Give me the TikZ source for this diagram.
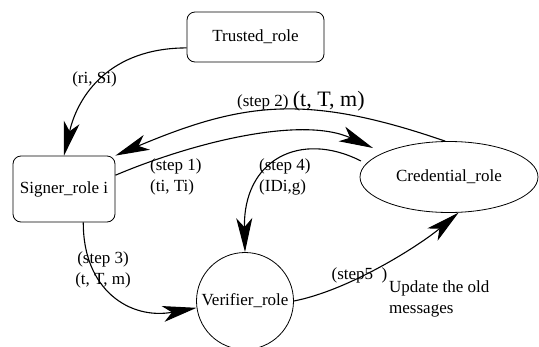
\documentclass[tikz,border=0pt]{standalone}
\usepackage{fontspec}
\setmainfont{Liberation Serif}
\usetikzlibrary{arrows.meta,shapes.geometric}
\begin{document}
\begin{tikzpicture}[x=1pt,y=-1pt,
  box/.style={draw,rounded corners=8pt,line width=0.8pt,inner sep=0pt,font=\fontsize{17}{20}\selectfont},
  ovalnode/.style={draw,ellipse,line width=0.8pt,inner sep=0pt,font=\fontsize{17}{20}\selectfont},
  roundnode/.style={draw,circle,line width=0.8pt,inner sep=0pt,font=\fontsize{17}{20}\selectfont},
  arr/.style={line width=1.1pt,-{Stealth[length=34pt,width=16pt,inset=9pt]}},
  lbl/.style={inner sep=0pt,font=\fontsize{17}{21}\selectfont}]
\useasboundingbox (0,0) rectangle (539,346);
% nodes
\node[box,minimum width=137pt,minimum height=50pt] (trusted) at (255.5,37) {Trusted\_role};
\node[box,minimum width=102pt,minimum height=66pt] (signer) at (64,189) {Signer\_role i};
\node[ovalnode,minimum width=178pt,minimum height=71pt] (cred) at (449,177) {Credential\_role};
\node[roundnode,minimum size=97pt] (ver) at (245,301) {Verifier\_role};
% free ends
\coordinate (s1end) at (373,148);
\coordinate (s4start) at (361,161);
% connectors
\draw[arr] (trusted.189) .. controls (110,48) and (78,95) .. (signer.north);
\draw[arr] (cred.96) .. controls (308,94) and (245,101) .. (signer.north east);
\draw[arr] (signer.15) .. controls (189,144) and (300,115) .. (s1end);
\draw[arr] (s4start) .. controls (300,130) and (243,160) .. (ver.north);
\draw[arr] (signer.-60) .. controls (83,290) and (130,320) .. (ver.188);
\draw[arr] (ver.east) .. controls (350,290) and (420,245) .. (cred.-75);
% labels
\node[lbl] (l0) at (94.5,79) {(ri, Si)};
\node[lbl,anchor=base west] (l2) at (237,106) {(step 2) {\fontsize{22}{24}\selectfont (t, T, m)}};
\node[lbl,anchor=west,align=left] (l1) at (150,177) {(step 1)\\(ti, Ti)};
\node[lbl,anchor=west,align=left] (l4) at (259,177) {(step 4)\\(IDi,g)};
\node[lbl,align=center] (l3) at (103,270) {(step 3)\\(t, T, m)};
\node[lbl] (l5) at (359.5,275) {(step5 \ )};
\node[lbl,anchor=west,align=left] (l6) at (389,298.5) {Update the old\\messages};
\end{tikzpicture}
\end{document}
